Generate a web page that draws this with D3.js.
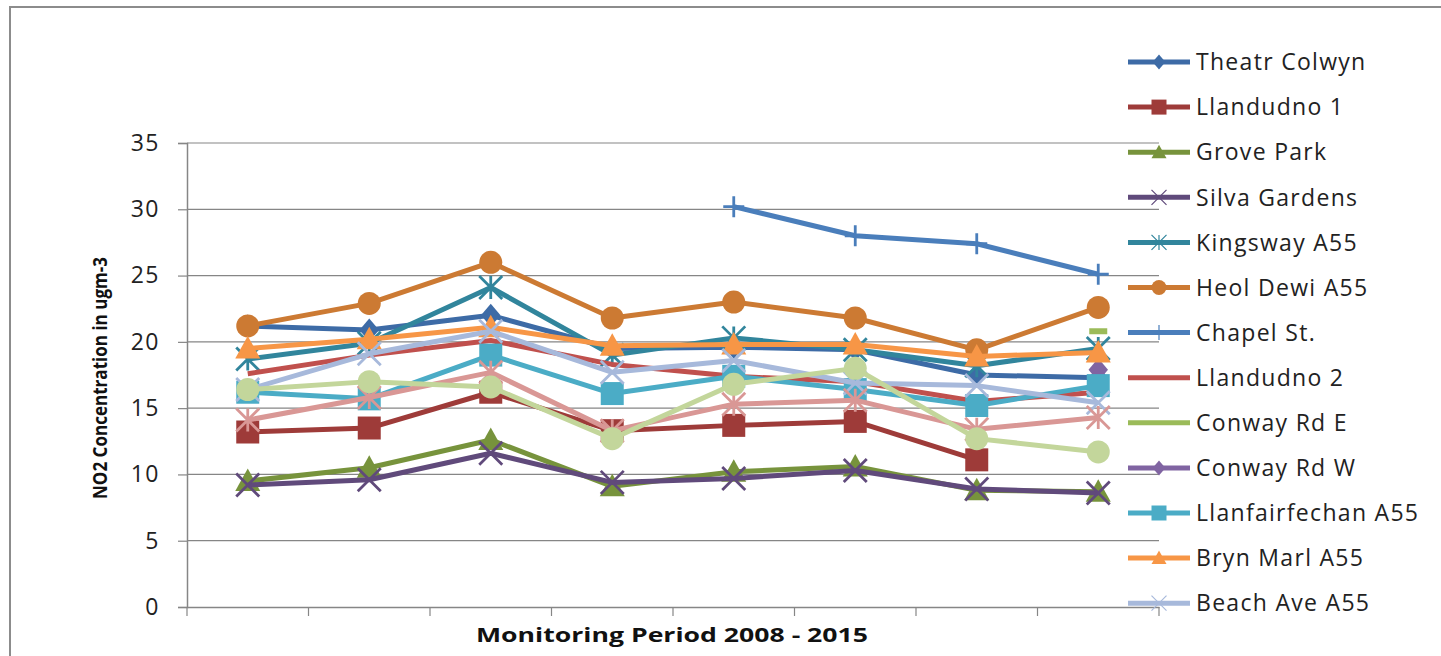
<!DOCTYPE html>
<html>
<head>
<meta charset="utf-8">
<script src="https://cdn.jsdelivr.net/npm/d3@7"></script>
<style>
  body { margin: 0; background: #fff; }
  svg { display: block; }
</style>
</head>
<body>
<svg id="chart" width="1441" height="656"></svg>
<script>
// monitoring periods (no labels shown on the x axis)
let periods = [1, 2, 3, 4, 5, 6, 7, 8]
let yTicks = [0, 5, 10, 15, 20, 25, 30, 35]

let seriesNames = ['Theatr Colwyn', 'Llandudno 1', 'Grove Park', 'Silva Gardens', 'Kingsway A55',
    'Heol Dewi A55', 'Chapel St.', 'Llandudno 2', 'Conway Rd E', 'Conway Rd W',
    'Llanfairfechan A55', 'Bryn Marl A55', 'Beach Ave A55', 'Series 14', 'Series 15']
// the legend is cut off by the picture after the 13th entry
let legendCount = 13

let theatrColwyn = [21.2, 20.9, 22.0, 19.5, 19.6, 19.4, 17.5, 17.3]
let llandudno1 = [13.2, 13.5, 16.2, 13.3, 13.7, 14.0, 11.1, null]
let grovePark = [9.5, 10.5, 12.6, 9.1, 10.2, 10.6, 8.8, 8.7]
let silvaGardens = [9.2, 9.6, 11.6, 9.4, 9.7, 10.3, 8.9, 8.6]
let kingsway = [18.7, 19.9, 24.1, 19.0, 20.3, 19.4, 18.2, 19.5]
let heolDewi = [21.2, 22.9, 26.0, 21.8, 23.0, 21.8, 19.4, 22.6]
let chapelSt = [null, null, null, null, 30.2, 28.0, 27.4, 25.1]
let llandudno2 = [17.6, 19.0, 20.1, 18.3, 17.4, 17.0, 15.5, 16.2]
let conwayRdE = [null, null, null, null, null, null, null, 20.8]
let conwayRdW = [null, null, null, null, null, null, null, 17.9]
let llanfairfechan = [16.2, 15.7, 19.0, 16.1, 17.4, 16.4, 15.2, 16.7]
let brynMarl = [19.5, 20.2, 21.1, 19.7, 19.8, 19.8, 18.9, 19.2]
let beachAve = [16.4, 19.1, 20.8, 17.7, 18.6, 16.9, 16.7, 15.4]
let series14 = [14.1, 15.8, 17.7, 13.3, 15.3, 15.6, 13.4, 14.3]
let series15 = [16.4, 17.0, 16.6, 12.7, 16.8, 18.0, 12.7, 11.7]

let seriesValues = [theatrColwyn, llandudno1, grovePark, silvaGardens, kingsway, heolDewi, chapelSt,
    llandudno2, conwayRdE, conwayRdW, llanfairfechan, brynMarl, beachAve, series14, series15]

let seriesColors = ['#3D6BA6', '#9E3B39', '#77933C', '#604A7B', '#31859C', '#CC7A33', '#4A7EBB',
    '#C0504D', '#9BBB59', '#8064A2', '#4BACC6', '#F79646', '#A7B9DB', '#D99795', '#C3D69B']
let seriesMarkers = ['diamond', 'square', 'triangle', 'x', 'asterisk', 'circle', 'plus',
    'none', 'dash', 'diamond', 'square', 'triangle', 'x', 'asterisk', 'circle']

let svg = d3.select('#chart')
let font = "'Open Sans', 'DejaVu Sans', sans-serif"

// outer chart border (cut off on right and bottom)
svg.append('rect')
    .attr('x', 10).attr('y', 7)
    .attr('width', 1500).attr('height', 700)
    .attr('fill', '#fff')
    .attr('stroke', '#8c8c8c')
    .attr('stroke-width', 2)

let plot = { left: 187, right: 1159, top: 143, bottom: 607 }

let xScale = d3.scaleBand()
    .domain(periods)
    .range([plot.left, plot.right])
let yScale = d3.scaleLinear()
    .domain([0, 35])
    .range([plot.bottom, plot.top])

// gridlines
svg.append('g')
    .selectAll('line')
    .data(yTicks.filter(t => t > 0))
    .enter()
    .append('line')
    .attr('x1', plot.left).attr('x2', plot.right)
    .attr('y1', d => yScale(d)).attr('y2', d => yScale(d))
    .attr('stroke', '#868686')
    .attr('stroke-width', 1.2)

// y axis
let yAxis = svg.append('g')
    .attr('transform', `translate(${plot.left},0)`)
    .call(d3.axisLeft(yScale).tickValues(yTicks).tickSize(9).tickPadding(18))
yAxis.select('.domain').attr('stroke', '#868686').attr('stroke-width', 1.5)
yAxis.selectAll('.tick line').attr('stroke', '#868686').attr('stroke-width', 1.2)
yAxis.selectAll('text')
    .attr('font-family', font)
    .attr('font-size', 23)
    .attr('letter-spacing', 1.5)
    .attr('fill', '#222')

// x axis: ticks at category boundaries, no labels
let xAxis = svg.append('g')
    .attr('transform', `translate(0,${plot.bottom})`)
    .call(d3.axisBottom(xScale).tickSize(0).tickFormat(''))
xAxis.select('.domain').attr('stroke', '#868686').attr('stroke-width', 1.5)
let boundaries = periods.map(p => xScale(p)).concat([plot.right])
xAxis.selectAll('.boundary')
    .data(boundaries)
    .enter()
    .append('line')
    .attr('class', 'boundary')
    .attr('x1', d => d).attr('x2', d => d)
    .attr('y1', 0).attr('y2', 9)
    .attr('stroke', '#868686')
    .attr('stroke-width', 1.2)

// axis titles
svg.append('text')
    .attr('x', 672).attr('y', 642)
    .attr('text-anchor', 'middle')
    .attr('font-family', font)
    .attr('font-weight', 'bold')
    .attr('font-size', 20)
    .attr('textLength', 392)
    .attr('lengthAdjust', 'spacingAndGlyphs')
    .attr('fill', '#111')
    .text('Monitoring Period 2008 - 2015')

svg.append('text')
    .attr('transform', 'translate(107,378) rotate(-90)')
    .attr('text-anchor', 'middle')
    .attr('font-family', font)
    .attr('font-weight', 'bold')
    .attr('font-size', 19)
    .attr('textLength', 242)
    .attr('lengthAdjust', 'spacingAndGlyphs')
    .attr('fill', '#111')
    .text('NO2 Concentration in ugm-3')

let markerPath = (type, s) => {
    let h = s / 2
    if (type === 'circle') return d3.symbol(d3.symbolCircle, Math.PI * h * h)()
    if (type === 'square') return d3.symbol(d3.symbolSquare, s * s)()
    if (type === 'diamond') return `M0,${-h}L${h * 0.85},0L0,${h}L${-h * 0.85},0Z`
    if (type === 'triangle') return `M0,${-h}L${h},${h * 0.8}L${-h},${h * 0.8}Z`
    if (type === 'x') return `M${-h},${-h}L${h},${h}M${-h},${h}L${h},${-h}`
    if (type === 'asterisk') return `M${-h},${-h}L${h},${h}M${-h},${h}L${h},${-h}M0,${-h}L0,${h}`
    if (type === 'plus') return `M${-h},0L${h},0M0,${-h}L0,${h}`
    if (type === 'dash') return `M${-h},0L${h},0`
    return ''
}
let isFilled = type => ['circle', 'square', 'diamond', 'triangle'].includes(type)
let markerSize = { circle: 23, square: 23, diamond: 23, triangle: 25, x: 23, asterisk: 23, plus: 21, dash: 18 }

let cx = p => xScale(p) + xScale.bandwidth() / 2

let line = d3.line()
    .defined(d => d.value !== null)
    .x(d => cx(d.period))
    .y(d => yScale(d.value))

let seriesData = seriesNames.map((name, i) => ({
    name: name,
    color: seriesColors[i],
    marker: seriesMarkers[i],
    points: periods.map((p, j) => ({ period: p, value: seriesValues[i][j] }))
}))

let seriesGroups = svg.append('g')
    .selectAll('g')
    .data(seriesData)
    .enter()
    .append('g')

seriesGroups.append('path')
    .attr('d', d => line(d.points))
    .attr('fill', 'none')
    .attr('stroke', d => d.color)
    .attr('stroke-width', 5)
    .attr('stroke-linejoin', 'round')

seriesGroups.each(function (s) {
    d3.select(this).selectAll('.marker')
        .data(s.points.filter(d => d.value !== null))
        .enter()
        .append('path')
        .attr('class', 'marker')
        .attr('transform', d => `translate(${cx(d.period)},${yScale(d.value)})`)
        .attr('d', markerPath(s.marker, markerSize[s.marker]))
        .attr('fill', isFilled(s.marker) ? s.color : 'none')
        .attr('stroke', s.color)
        .attr('stroke-width', isFilled(s.marker) ? 0 : (s.marker === 'dash' ? 6 : 2.8))
})

// legend (overlaps the plot area)
let legend = svg.append('g')
    .attr('transform', 'translate(1128,62)')
let legendItems = legend.selectAll('g')
    .data(seriesData.slice(0, legendCount))
    .enter()
    .append('g')
    .attr('transform', (d, i) => `translate(0,${i * 45.1})`)

legendItems.append('line')
    .attr('x1', 0).attr('x2', 62)
    .attr('y1', 0).attr('y2', 0)
    .attr('stroke', d => d.color)
    .attr('stroke-width', 5)

legendItems.append('path')
    .attr('transform', 'translate(31,0)')
    .attr('d', d => d.marker === 'dash' ? '' : markerPath(d.marker, 15))
    .attr('fill', d => isFilled(d.marker) ? d.color : 'none')
    .attr('stroke', d => d.color)
    .attr('stroke-width', d => isFilled(d.marker) ? 0 : 1.2)

legendItems.append('text')
    .attr('x', 68).attr('y', 0)
    .attr('dy', '0.36em')
    .attr('font-family', font)
    .attr('font-size', 23)
    .attr('letter-spacing', 1.3)
    .attr('fill', '#222')
    .text(d => d.name)
</script>
</body>
</html>
